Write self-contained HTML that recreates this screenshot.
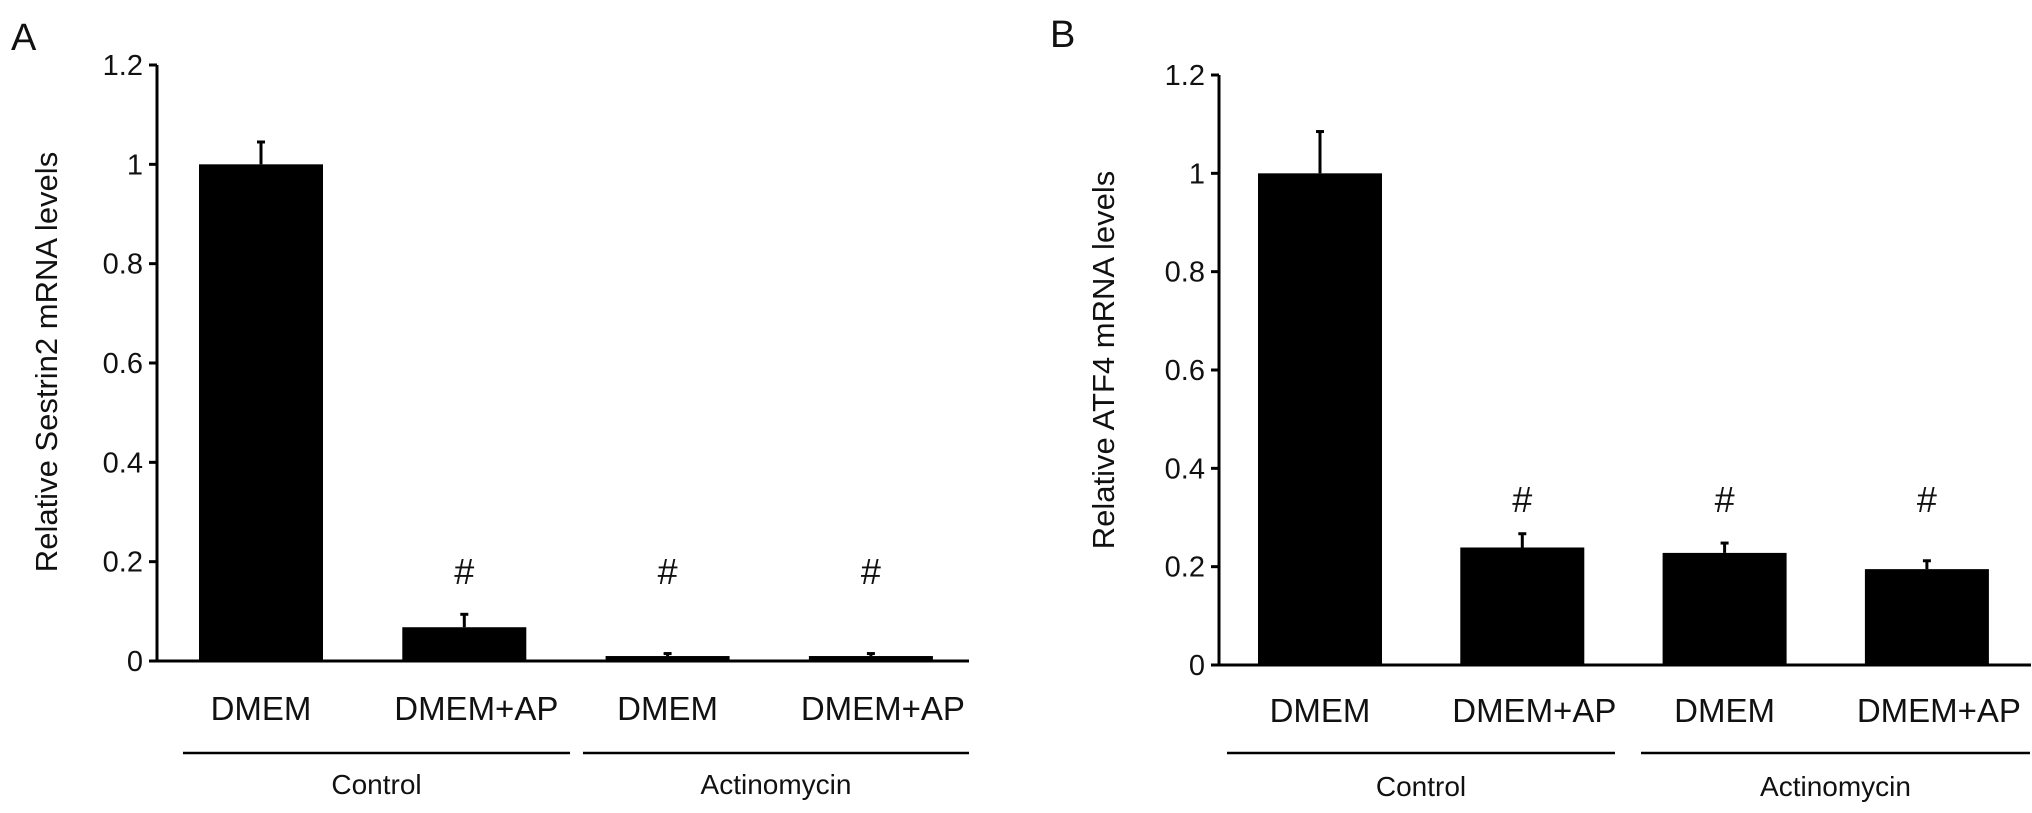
<!DOCTYPE html>
<html><head><meta charset="utf-8"><style>
html,body{margin:0;padding:0;background:#fff}
svg{display:block}
text{font-family:"Liberation Sans",Arial,sans-serif;fill:#111}
</style></head><body>
<svg id="chart" width="2032" height="813" viewBox="0 0 2032 813"></svg>
<script>
const categories = ["DMEM","DMEM+AP","DMEM","DMEM+AP"];
const groups = ["Control","Actinomycin"];
const tickValues = [0,0.2,0.4,0.6,0.8,1,1.2];
const tickLabels = ["0","0.2","0.4","0.6","0.8","1","1.2"];
const valuesA = [1.0,0.068,0.01,0.01];
const errorsA = [0.045,0.026,0.005,0.005];
const hashA = [false,true,true,true];
const valuesB = [1.0,0.239,0.228,0.195];
const errorsB = [0.085,0.028,0.02,0.017];
const hashB = [false,true,true,true];

const NS="http://www.w3.org/2000/svg";
const svg=document.getElementById('chart');
function mk(tag,attrs,parent,text){const e=document.createElementNS(NS,tag);for(const k in attrs)e.setAttribute(k,attrs[k]);if(text!==undefined)e.textContent=text;(parent||svg).appendChild(e);return e;}

function panel(cfg){
  const g=mk('g',{});
  
  
  const y=v=>cfg.y0-(cfg.y0-cfg.y12)*v/1.2;
  const lab=mk('text',{x:cfg.letterX,y:cfg.letterY,'font-size':38},g,cfg.letter);
  
  
  const ya=mk('line',{x1:cfg.ax,x2:cfg.ax,y1:cfg.y12,y2:cfg.y0,stroke:'#000','stroke-width':3},g);
  
  
  tickValues.forEach((v,i)=>{
    mk('line',{x1:cfg.ax-8,x2:cfg.ax,y1:y(v),y2:y(v),stroke:'#000','stroke-width':3},g);
    const t=mk('text',{x:cfg.ax-14,y:y(v)+10,'font-size':29,'text-anchor':'end'},g,tickLabels[i]);
    
    
  });
  const yt=mk('text',{x:0,y:0,'font-size':31,'text-anchor':'middle',transform:`translate(${cfg.titleX},${cfg.titleY}) rotate(-90)`},g,cfg.title);
  
  
  const bw=124;
  cfg.vals.forEach((v,i)=>{
    const cx=cfg.c0+i*cfg.step;
    const top=y(v+cfg.errs[i]);
    const el=mk('line',{x1:cx,x2:cx,y1:top,y2:y(v),stroke:'#000','stroke-width':3},g);
    
    
    mk('line',{x1:cx-4,x2:cx+4,y1:top,y2:top,stroke:'#000','stroke-width':3},g);
    const b=mk('rect',{x:cx-bw/2,y:y(v),width:bw,height:cfg.y0-y(v),fill:'#000'},g);
    
    
    if(cfg.hash[i]){
      const h=mk('text',{x:cx,y:cfg.hashY,'font-size':36,'text-anchor':'middle'},g,'#');
      
      
    }
    const c=mk('text',{x:cx+(i%2?12:0),y:cfg.catY,'font-size':33,'text-anchor':'middle'},g,categories[i]);
    
    
  });
  const xa=mk('line',{x1:cfg.ax,x2:cfg.axEnd,y1:cfg.y0,y2:cfg.y0,stroke:'#000','stroke-width':3},g);
  
  
  groups.forEach((gn,i)=>{
    const [a,b]=cfg.lines[i];
    const l=mk('line',{x1:a,x2:b,y1:753,y2:753,stroke:'#000','stroke-width':2.5},g);
    
    
    const t=mk('text',{x:(a+b)/2,y:cfg.grpY,'font-size':28,'text-anchor':'middle'},g,gn);
    
    
  });
}
panel({name:'panel-a',letter:'A',letterX:11,letterY:50,ax:157,axEnd:969,y0:661,y12:65,
  title:'Relative Sestrin2 mRNA levels',titleX:57,titleY:362,c0:261,step:203.3,
  vals:valuesA,errs:errorsA,hash:hashA,hashY:584,catY:720,grpY:794,
  lines:[[183,570],[583,969]]});
panel({name:'panel-b',letter:'B',letterX:1050,letterY:47,ax:1219,axEnd:2031,y0:665,y12:75,
  title:'Relative ATF4 mRNA levels',titleX:1114,titleY:360,c0:1320,step:202.3,
  vals:valuesB,errs:errorsB,hash:hashB,hashY:512,catY:722,grpY:796,
  lines:[[1227,1615],[1641,2030]]});
</script>
</body></html>
